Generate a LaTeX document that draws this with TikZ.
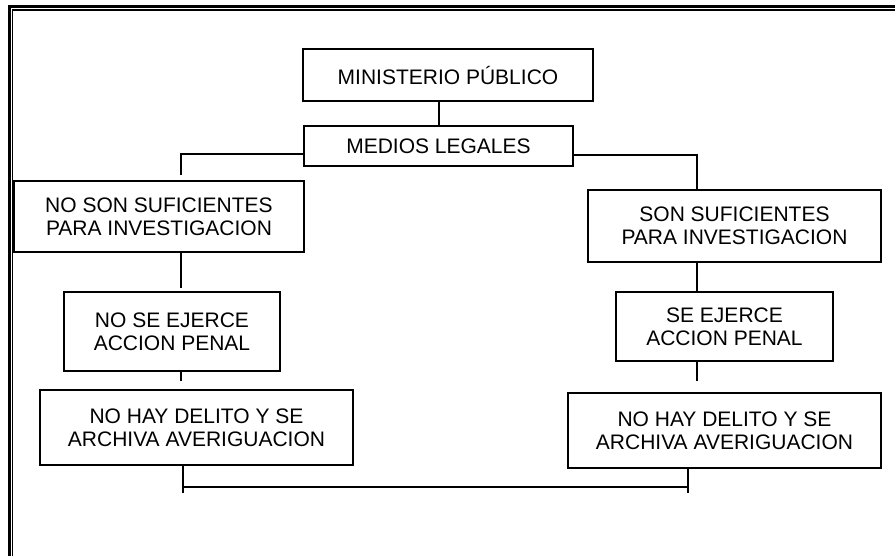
\documentclass[tikz,border=0pt]{standalone}
\usepackage{fontspec}
\setmainfont{Liberation Sans}
\usetikzlibrary{positioning,calc}

\begin{document}
\begin{tikzpicture}[x=0.5pt,y=-0.5pt,
    caja/.style={draw, line width=1pt, inner sep=0pt, align=center,
      font=\fontsize{10.5pt}{11.65pt}\selectfont},
    linea/.style={line width=1pt}]
    \useasboundingbox (0,0) rectangle (895,556);
    % marco doble (sale por la derecha y por abajo)
    \begin{scope}
      \clip (0,0) rectangle (895,556);
      \draw[line width=1.5pt] (9.5,570) -- (9.5,6.5) -- (910,6.5);
      \draw[line width=0.65pt] (12.5,570) -- (12.5,10) -- (910,10);
    \end{scope}
    % cajas
    \node[caja, minimum width=145pt, minimum height=26pt] (mp) at (448,75) {MINISTERIO PÚBLICO};
    \node[caja, minimum width=134.5pt, minimum height=20pt] (ml) at (438.5,146) {MEDIOS LEGALES};
    \node[caja, minimum width=145pt, minimum height=35.5pt] (nosuf) at (159,216.5) {NO SON SUFICIENTES\\PARA INVESTIGACION};
    \node[caja, minimum width=146.5pt, minimum height=36pt] (suf) at (734.5,226) {SON SUFICIENTES\\PARA INVESTIGACION};
    \node[caja, minimum width=108pt, minimum height=39.5pt] (noejer) at (172,331.5) {NO SE EJERCE\\ACCION PENAL};
    \node[caja, minimum width=108.5pt, minimum height=34.5pt] (ejer) at (724.5,326.5) {SE EJERCE\\ACCION PENAL};
    \node[caja, minimum width=156.5pt, minimum height=37.5pt] (archL) at (196.5,427.5) {NO HAY DELITO Y SE\\ARCHIVA AVERIGUACION};
    \node[caja, minimum width=156.5pt, minimum height=37.5pt] (archR) at (724.5,430.5) {NO HAY DELITO Y SE\\ARCHIVA AVERIGUACION};
    % puntos de quiebre
    \coordinate (kL) at (181,154);
    \coordinate (kR) at (697,155);
    \coordinate (jL) at (183,487);
    \coordinate (jR) at (688,487);
    % conectores
    \draw[linea] (ml.north) -- (ml.north |- mp.south);
    \draw[linea] ([yshift=-4pt]ml.west) -- (kL) -- ([yshift=2.5pt]nosuf.north -| kL);
    \draw[linea] ([yshift=-4.5pt]ml.east) -- (kR) -- (suf.north -| kR);
    \draw[linea] (nosuf.south -| kL) -- ([yshift=1.5pt]noejer.north -| kL);
    \draw[linea] (noejer.south -| kL) -- ([yshift=4pt]archL.north -| kL);
    \draw[linea] (suf.south -| kR) -- (ejer.north -| kR);
    \draw[linea] (ejer.south -| kR) -- ([yshift=5.5pt]archR.north -| kR);
    % union inferior
    \draw[linea] (archL.south -| jL) -- ([yshift=-3pt]jL);
    \draw[linea] (archR.south -| jR) -- ([yshift=-3pt]jR);
    \draw[line width=0.8pt] (jL) -- (jR);
  \end{tikzpicture}
\end{document}
